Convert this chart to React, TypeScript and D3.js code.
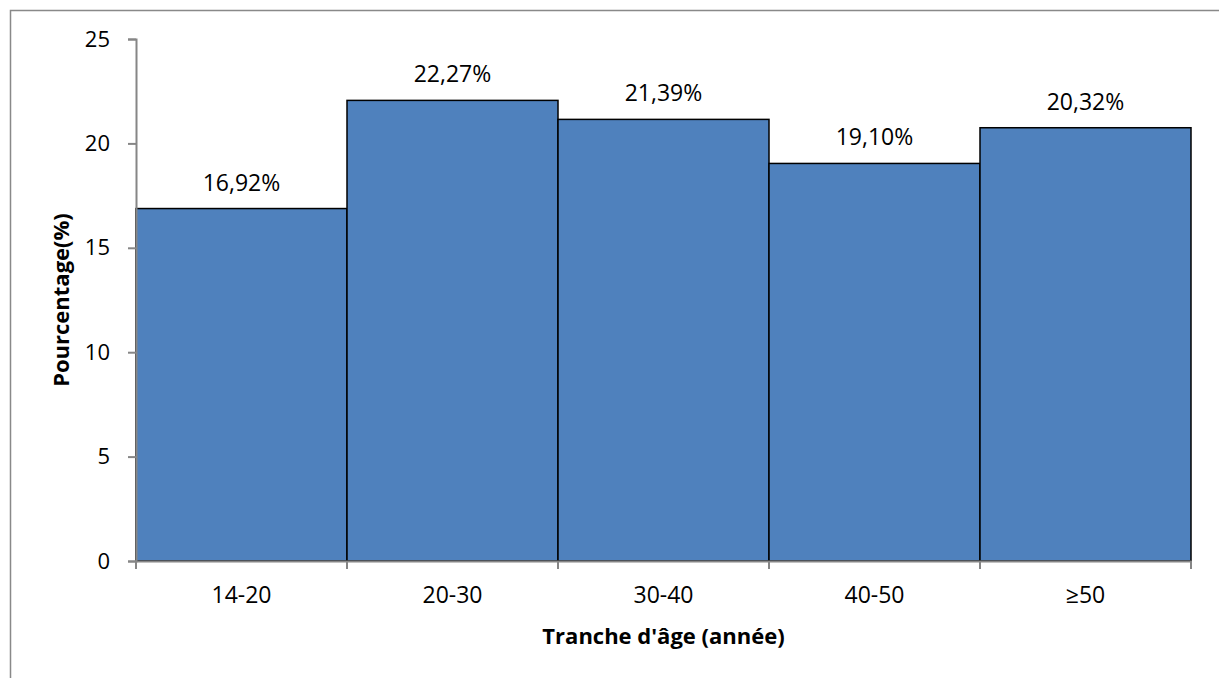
import React, { useEffect, useRef } from "react";
import * as d3 from "d3";

const categories = ["14-20", "20-30", "30-40", "40-50", "≥50"];
// bar heights
const barValues = [16.88, 22.06, 21.15, 19.04, 20.75];
// printed data labels
const labelTexts = ["16,92%", "22,27%", "21,39%", "19,10%", "20,32%"];
const yTicks = [0, 5, 10, 15, 20, 25];

export default function App() {
  const ref = useRef<SVGSVGElement>(null);

  useEffect(() => {
    const width = 1219;
    const height = 678;
    const marginLeft = 136;
    const marginRight = 28;
    const marginTop = 39;
    const marginBottom = 117;
    const font = "'Open Sans', sans-serif";

    const svg = d3.select(ref.current);
    svg.selectAll("*").remove();
    svg.attr("width", width).attr("height", height);

    // outer chart frame (only left and top visible)
    svg
      .append("rect")
      .attr("x", 10.5)
      .attr("y", 10.5)
      .attr("width", width + 20)
      .attr("height", height + 20)
      .attr("fill", "white")
      .attr("stroke", "#898989")
      .attr("stroke-width", 1.5);

    const x = d3
      .scaleBand<string>()
      .domain(categories)
      .range([marginLeft, width - marginRight])
      .padding(0);

    const y = d3
      .scaleLinear()
      .domain([0, 25])
      .range([height - marginBottom, marginTop]);

    // bars
    svg
      .append("g")
      .selectAll("rect")
      .data(barValues)
      .join("rect")
      .attr("x", (_, i) => x(categories[i])!)
      .attr("y", (d) => y(d))
      .attr("width", x.bandwidth())
      .attr("height", (d) => y(0) - y(d))
      .attr("fill", "#4F81BD")
      .attr("stroke", "#000")
      .attr("stroke-width", 1.5);

    // data labels
    svg
      .append("g")
      .selectAll("text")
      .data(barValues)
      .join("text")
      .attr("x", (_, i) => x(categories[i])! + x.bandwidth() / 2)
      .attr("y", (d) => y(d) - 18)
      .attr("text-anchor", "middle")
      .attr("font-family", font)
      .attr("font-size", 23)
      .attr("fill", "#000")
      .text((_, i) => labelTexts[i]);

    // y axis
    const yAxis = svg
      .append("g")
      .attr("transform", `translate(${marginLeft},0)`)
      .call(d3.axisLeft(y).tickValues(yTicks).tickSize(8).tickSizeOuter(8).tickPadding(18));
    yAxis.select(".domain").attr("stroke", "#868686").attr("stroke-width", 2);
    yAxis.selectAll(".tick line").attr("stroke", "#868686").attr("stroke-width", 2);
    yAxis
      .selectAll(".tick text")
      .attr("font-family", font)
      .attr("font-size", 22)
      .attr("fill", "#000");

    // x axis with tick marks at bar boundaries
    const xAxis = svg
      .append("g")
      .attr("transform", `translate(0,${height - marginBottom})`)
      .call(d3.axisBottom(x).tickSize(0).tickSizeOuter(0).tickPadding(26));
    xAxis.select(".domain").attr("stroke", "#868686").attr("stroke-width", 2);
    xAxis
      .selectAll(".tick text")
      .attr("font-family", font)
      .attr("font-size", 23)
      .attr("fill", "#000");
    xAxis
      .append("g")
      .selectAll("line")
      .data([...categories.map((c) => x(c)!), x.range()[1]])
      .join("line")
      .attr("x1", (d) => d)
      .attr("x2", (d) => d)
      .attr("y1", 0)
      .attr("y2", 8)
      .attr("stroke", "#868686")
      .attr("stroke-width", 2);

    // axis titles
    svg
      .append("text")
      .attr("x", (marginLeft + width - marginRight) / 2)
      .attr("y", 644)
      .attr("text-anchor", "middle")
      .attr("font-family", font)
      .attr("font-size", 22)
      .attr("font-weight", "bold")
      .attr("fill", "#000")
      .text("Tranche d'âge (année)");

    svg
      .append("text")
      .attr("transform", `translate(69,${(marginTop + height - marginBottom) / 2}) rotate(-90)`)
      .attr("text-anchor", "middle")
      .attr("font-family", font)
      .attr("font-size", 22)
      .attr("font-weight", "bold")
      .attr("fill", "#000")
      .text("Pourcentage(%)");
  }, []);

  return (
    <svg
      ref={ref}
      style={{ position: "absolute", left: 0, top: 0, display: "block" }}
    />
  );
}
